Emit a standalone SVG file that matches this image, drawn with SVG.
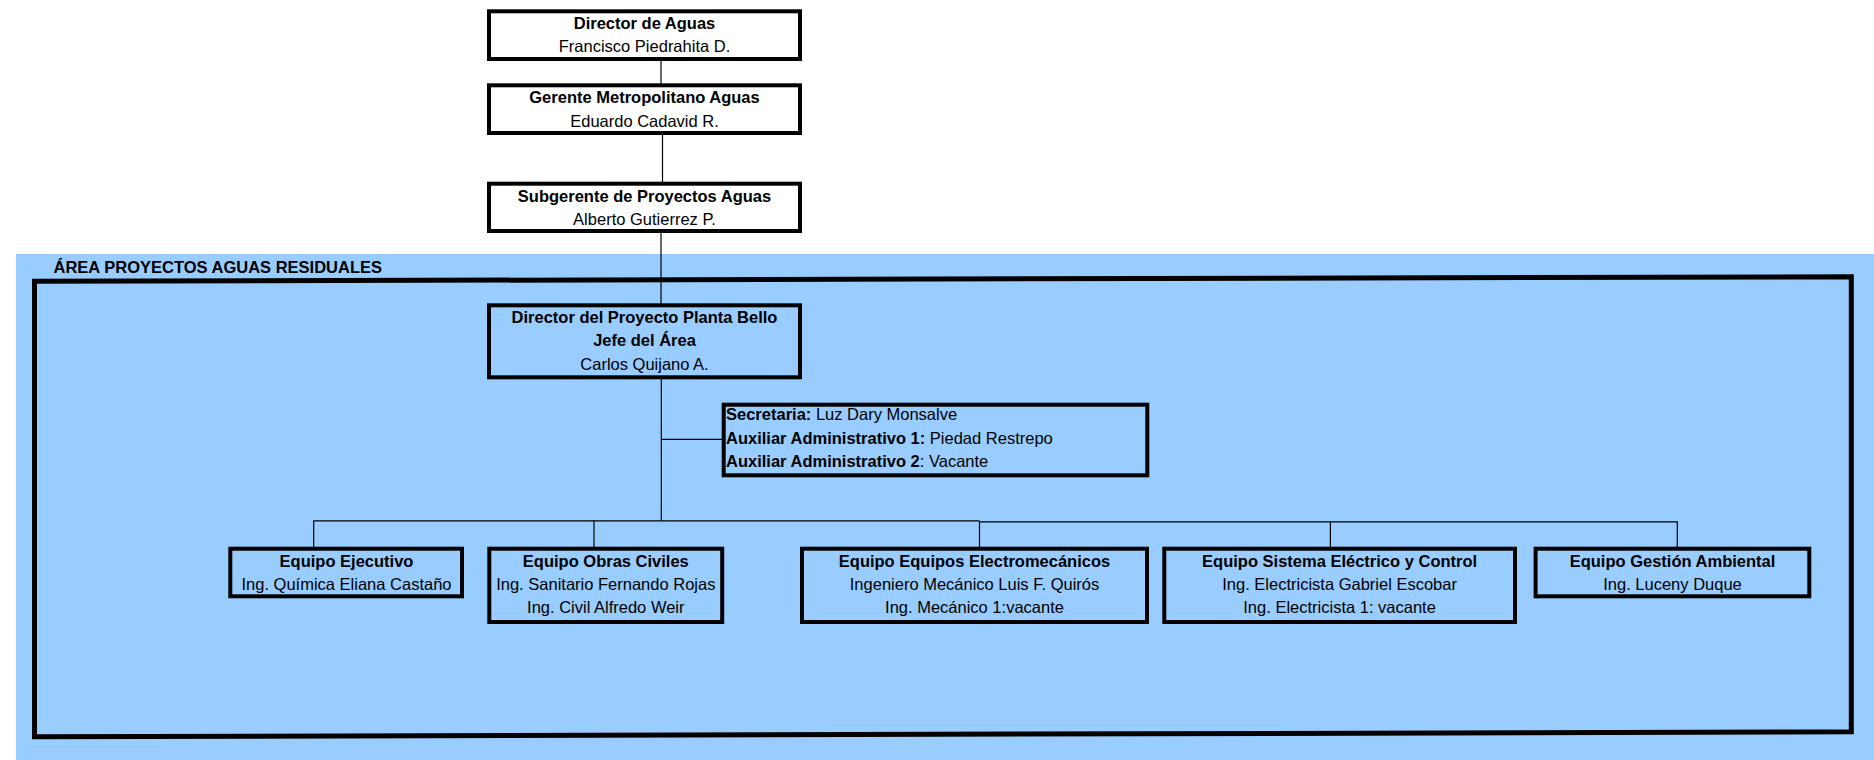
<svg xmlns="http://www.w3.org/2000/svg" width="1874" height="760" viewBox="0 0 1874 760">
<style>
.box{stroke:#000;stroke-width:4}
.w{fill:#fff}
.b{fill:none}
.t{font-family:"Liberation Sans",Arial,sans-serif;font-size:16.5px;fill:#000}
.c{text-anchor:middle}
.bd{font-weight:bold}
.ln{stroke:#000;stroke-width:1.2;fill:none}
</style>
<rect width="1874" height="760" fill="#fff"/>
<g id="area">
<rect x="16" y="254" width="1858" height="506" fill="#99CCFF"/>
<polygon points="34.5,281.3 1851.3,276.8 1851.3,731.8 34.5,736.8" fill="none" stroke="#000" stroke-width="5"/>
<text class="t bd" x="53.5" y="273.3">ÁREA PROYECTOS AGUAS RESIDUALES</text>
</g>
<g id="connectors">
<line class="ln" x1="661" y1="59" x2="661" y2="85"/>
<line class="ln" x1="662.5" y1="133" x2="662.5" y2="184"/>
<line class="ln" x1="661" y1="231" x2="661" y2="305"/>
<line class="ln" x1="661.3" y1="377" x2="661.3" y2="521"/>
<line class="ln" x1="661.3" y1="439.3" x2="722" y2="439.3"/>
<polyline class="ln" points="313.7,548 313.7,520.8 979.5,520.8"/>
<polyline class="ln" points="979.5,548 979.5,521.8 1677.3,521.8 1677.3,548"/>
<line class="ln" x1="594" y1="520.8" x2="594" y2="548"/>
<line class="ln" x1="1330.4" y1="521.8" x2="1330.4" y2="548"/>
</g>
<g id="director-aguas">
<rect class="box w" x="489" y="11.3" width="311" height="47.7"/>
<text class="t c bd" x="644.5" y="29.3">Director de Aguas</text>
<text class="t c" x="644.5" y="51.7">Francisco Piedrahita D.</text>
</g>
<g id="gerente">
<rect class="box w" x="489" y="85.3" width="311" height="47.7"/>
<text class="t c bd" x="644.5" y="103.3">Gerente Metropolitano Aguas</text>
<text class="t c" x="644.5" y="126.7">Eduardo Cadavid R.</text>
</g>
<g id="subgerente">
<rect class="box w" x="489" y="183.7" width="311" height="47.3"/>
<text class="t c bd" x="644.5" y="201.5">Subgerente de Proyectos Aguas</text>
<text class="t c" x="644.5" y="225">Alberto Gutierrez P.</text>
</g>
<g id="director-proyecto">
<rect class="box b" x="489" y="305.3" width="311" height="72"/>
<text class="t c bd" x="644.5" y="322.7">Director del Proyecto Planta Bello</text>
<text class="t c bd" x="644.5" y="346">Jefe del Área</text>
<text class="t c" x="644.5" y="370">Carlos Quijano A.</text>
</g>
<g id="secretaria">
<rect class="box b" x="723.7" y="404.7" width="423.6" height="70.6"/>
<text class="t" x="726" y="419.5"><tspan class="bd">Secretaria:</tspan> Luz Dary Monsalve</text>
<text class="t" x="726" y="444"><tspan class="bd">Auxiliar Administrativo 1:</tspan> Piedad Restrepo</text>
<text class="t" x="726" y="467"><tspan class="bd">Auxiliar Administrativo 2</tspan>: Vacante</text>
</g>
<g id="equipo-ejecutivo">
<rect class="box b" x="230.3" y="548.7" width="231.7" height="47.6"/>
<text class="t c bd" x="346.5" y="566.5">Equipo Ejecutivo</text>
<text class="t c" x="346.5" y="589.5">Ing. Química Eliana Castaño</text>
</g>
<g id="equipo-obras">
<rect class="box b" x="489.3" y="548.7" width="232.9" height="73.3"/>
<text class="t c bd" x="605.8" y="566.5">Equipo Obras Civiles</text>
<text class="t c" x="605.8" y="589.5">Ing. Sanitario Fernando Rojas</text>
<text class="t c" x="605.8" y="613">Ing. Civil Alfredo Weir</text>
</g>
<g id="equipo-electromecanicos">
<rect class="box b" x="802" y="548.7" width="345" height="73.3"/>
<text class="t c bd" x="974.5" y="566.5">Equipo Equipos Electromecánicos</text>
<text class="t c" x="974.5" y="589.5">Ingeniero Mecánico Luis F. Quirós</text>
<text class="t c" x="974.5" y="613">Ing. Mecánico 1:vacante</text>
</g>
<g id="equipo-sistema">
<rect class="box b" x="1164.3" y="548.7" width="350.7" height="73.3"/>
<text class="t c bd" x="1339.6" y="566.5">Equipo Sistema Eléctrico y Control</text>
<text class="t c" x="1339.6" y="589.5">Ing. Electricista Gabriel Escobar</text>
<text class="t c" x="1339.6" y="613">Ing. Electricista 1: vacante</text>
</g>
<g id="equipo-gestion">
<rect class="box b" x="1535.6" y="548.7" width="273.7" height="47.6"/>
<text class="t c bd" x="1672.5" y="566.5">Equipo Gestión Ambiental</text>
<text class="t c" x="1672.5" y="589.5">Ing. Luceny Duque</text>
</g>
</svg>
